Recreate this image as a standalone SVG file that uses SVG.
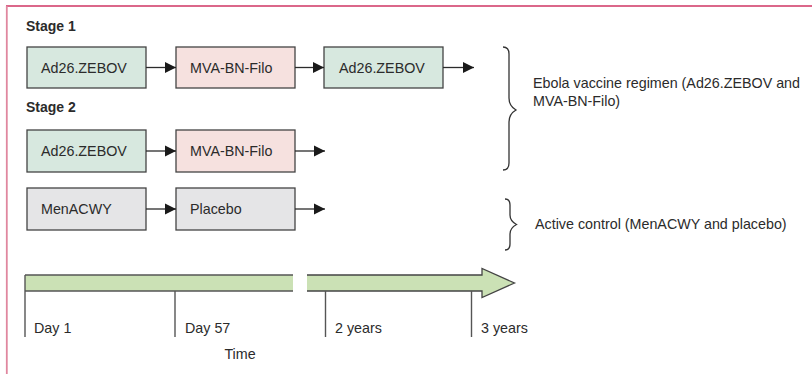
<svg xmlns="http://www.w3.org/2000/svg" width="812" height="374" viewBox="0 0 812 374">
<style>
text{font-family:"Liberation Sans",Arial,sans-serif;fill:#2b2b2b;font-size:14.3px}
.h{font-weight:bold;font-size:14px}
.box{stroke:#444;stroke-width:1.3}
.g{fill:#d7e8df}.p{fill:#f6e1df}.n{fill:#e5e5e7}
.c{stroke:#2b2b2b;stroke-width:1.3;fill:none}
.t{stroke:#555;stroke-width:1.4;fill:none}
.br{stroke:#333;stroke-width:1.3;fill:none}
</style>
<defs>
<marker id="ah" markerUnits="userSpaceOnUse" markerWidth="12" markerHeight="12" refX="11" refY="6" orient="auto">
<path d="M0,0.5 L11,6 L0,11.5 Z" fill="#1a1a1a"/>
</marker>
</defs>
<rect x="0" y="0" width="812" height="374" fill="#fff"/>
<line x1="6" y1="6" x2="812" y2="6" stroke="#cf3563" stroke-width="1.6"/>
<line x1="6.8" y1="6" x2="6.8" y2="374" stroke="#e0879f" stroke-width="1.8"/>

<text class="h" x="26" y="31">Stage 1</text>
<text class="h" x="26" y="112">Stage 2</text>

<g id="s1-ad26-1"><rect class="box g" x="27" y="47" width="119" height="41"/><text x="41" y="72.5">Ad26.ZEBOV</text></g>
<g id="s1-mva"><rect class="box p" x="176" y="47" width="119" height="41"/><text x="190" y="72.5">MVA-BN-Filo</text></g>
<g id="s1-ad26-2"><rect class="box g" x="324" y="47" width="119" height="41"/><text x="339" y="72.5">Ad26.ZEBOV</text></g>

<g id="s2-ad26"><rect class="box g" x="27" y="130" width="119" height="42"/><text x="41" y="156">Ad26.ZEBOV</text></g>
<g id="s2-mva"><rect class="box p" x="176" y="130" width="119" height="42"/><text x="190" y="156">MVA-BN-Filo</text></g>

<g id="c-menacwy"><rect class="box n" x="27" y="188" width="119" height="42"/><text x="41" y="214">MenACWY</text></g>
<g id="c-placebo"><rect class="box n" x="176" y="188" width="119" height="42"/><text x="190" y="214">Placebo</text></g>

<g id="connectors">
<line class="c" x1="146" y1="67.5" x2="176" y2="67.5" marker-end="url(#ah)"/>
<line class="c" x1="295" y1="67.5" x2="324" y2="67.5" marker-end="url(#ah)"/>
<line class="c" x1="443" y1="67.5" x2="474" y2="67.5" marker-end="url(#ah)"/>
<line class="c" x1="146" y1="151" x2="176" y2="151" marker-end="url(#ah)"/>
<line class="c" x1="295" y1="151" x2="325" y2="151" marker-end="url(#ah)"/>
<line class="c" x1="146" y1="209" x2="176" y2="209" marker-end="url(#ah)"/>
<line class="c" x1="295" y1="209" x2="325" y2="209" marker-end="url(#ah)"/>
</g>

<g id="brace-ebola">
<path class="br" d="M503,47 Q509,47 509,54 L509,98 Q509,106 516,110 Q509,114 509,122 L509,163 Q509,170 503,170"/>
<text x="533" y="88">Ebola vaccine regimen (Ad26.ZEBOV and</text>
<text x="533" y="106">MVA-BN-Filo)</text>
</g>
<g id="brace-control">
<path class="br" d="M505,199 Q510,199 510,205 L510,215 Q510,221 516.5,224.5 Q510,228 510,234 L510,244 Q510,250 505,250"/>
<text x="535" y="229">Active control (MenACWY and placebo)</text>
</g>

<g id="timeline">
<rect x="25" y="275" width="268" height="16" fill="#cbe1b5"/>
<line class="t" x1="25" y1="275" x2="293" y2="275"/>
<line class="t" x1="25" y1="291" x2="293" y2="291"/>
<path d="M307,275 L482,275 L482,268.5 L514.5,283 L482,297.5 L482,291 L307,291" fill="#cbe1b5" stroke="#444" stroke-width="1.3"/>
<line class="t" x1="25" y1="275" x2="25" y2="337"/>
<line class="t" x1="175" y1="291" x2="175" y2="337"/>
<line class="t" x1="325.5" y1="291" x2="325.5" y2="337"/>
<line class="t" x1="471.5" y1="291" x2="471.5" y2="337"/>
<text x="34" y="333">Day 1</text>
<text x="185" y="333">Day 57</text>
<text x="335" y="333">2 years</text>
<text x="481" y="333">3 years</text>
<text x="240" y="359" text-anchor="middle">Time</text>
</g>
</svg>
